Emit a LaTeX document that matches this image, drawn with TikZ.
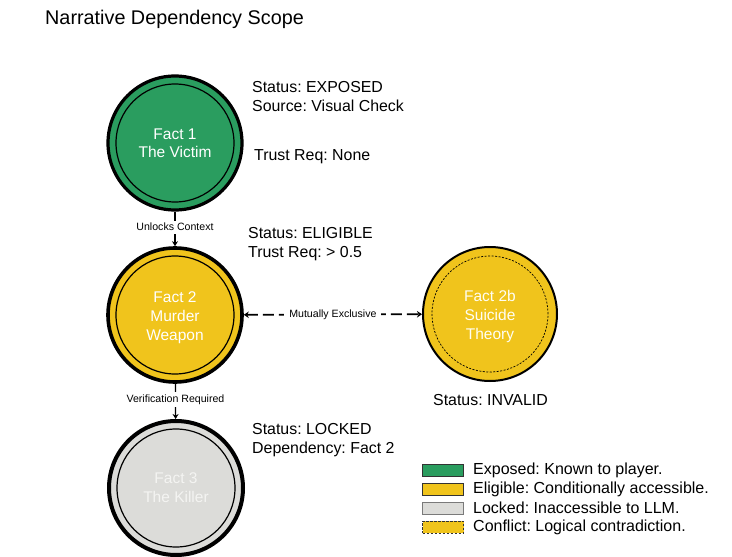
\documentclass[tikz,border=0pt]{standalone}
\usepackage{fontspec}
\setmainfont{Liberation Sans}
\frenchspacing
\usetikzlibrary{arrows.meta}
\definecolor{fgreen}{HTML}{2A9D5F}
\definecolor{fyellow}{HTML}{F0C41C}
\definecolor{fgray}{HTML}{DCDCD9}
\definecolor{ftextgray}{HTML}{F4F4F2}
\definecolor{swgray}{HTML}{7A7A7A}
\tikzset{
  fact/.style={circle, draw=black, line width=3.2pt, minimum size=134pt, inner sep=0pt,
    text=white, align=center, font=\fontsize{15.5}{18.5}\selectfont},
  innerring/.style={draw=black, line width=1.2pt},
  info/.style={anchor=base west, inner sep=0pt, font=\fontsize{15.9}{18}\selectfont},
  elabel/.style={fill=white, inner sep=2.5pt, font=\fontsize{10.6}{12}\selectfont},
  arr/.style={line width=1.2pt, -{Stealth[length=5pt,width=6pt]}},
  swatch/.style={draw=black!80, line width=0.8pt, minimum width=41pt, minimum height=12pt, inner sep=0pt},
  legtext/.style={anchor=west, inner sep=0pt, font=\fontsize{16}{18}\selectfont}
}
\begin{document}
\begin{tikzpicture}[x=1pt,y=-1pt]
\useasboundingbox (0,0) rectangle (732,557);
\node[anchor=west, inner sep=0pt, font=\fontsize{19.8}{22}\selectfont] (title) at (45,19) {Narrative Dependency Scope};

% fact circles
\node[fact, fill=fgreen] (f1) at (175,143) {Fact 1\\The Victim};
\draw[innerring] (f1.center) circle[radius=59pt];

\node[fact, fill=fyellow, line width=3.6pt, font=\fontsize{15.5}{19}\selectfont] (f2) at (175,315) {\rule{0pt}{17pt}Fact 2\\Murder\\Weapon};
\draw[innerring] (f2.center) circle[radius=59pt];

\node[fact, fill=fgray, line width=4pt, text=ftextgray, font=\fontsize{15.5}{19}\selectfont] (f3) at (176,488) {Fact 3\\The Killer};
\draw[innerring] (f3.center) circle[radius=59pt];

\node[fact, fill=fyellow, line width=2pt, text=white!95!yellow, font=\fontsize{15.5}{19}\selectfont] (f2b) at (490,314) {\rule{0pt}{17pt}Fact 2b\\Suicide\\Theory};
\draw[line width=0.7pt, dash pattern=on 2pt off 1.5pt] (f2b.center) circle[radius=58pt];

% connectors
\draw[arr] (f1) -- node[elabel, pos=0.45] (l1) {Unlocks Context} (f2);
\draw[arr] (f2) -- node[elabel, pos=0.45] (l2) {Verification Required} (f3);
\draw[line width=1.7pt, dash pattern=on 11pt off 5pt, {Stealth[length=5pt,width=6.5pt]}-{Stealth[length=5pt,width=6.5pt]}]
  (f2) -- node[elabel, inner sep=5pt] (l3) {Mutually Exclusive} (f2b);

% info texts
\node[info] (s1a) at (252,92) {Status: EXPOSED};
\node[info] (s1b) at (252,111) {Source: Visual Check};
\node[info] (s1c) at (254,160) {Trust Req: None};
\node[info] (s2a) at (248,238) {Status: ELIGIBLE};
\node[info] (s2b) at (248,257) {Trust Req: > 0.5};
\node[info] (s2bb) at (433,405) {Status: INVALID};
\node[info] (s3a) at (252,434) {Status: LOCKED};
\node[info] (s3b) at (252,453) {Dependency: Fact 2};

% legend
\node[swatch, fill=fgreen] (w1) at (443,470) {};
\node[swatch, fill=fyellow] (w2) at (443,489) {};
\node[swatch, fill=fgray, draw=swgray] (w3) at (443,508) {};
\node[swatch, fill=fyellow, dash pattern=on 2.5pt off 1.5pt] (w4) at (443,527) {};
\node[legtext] (t1) at (473,470) {Exposed: Known to player.};
\node[legtext] (t2) at (473,489) {Eligible: Conditionally accessible.};
\node[legtext] (t3) at (473,508) {Locked: Inaccessible to LLM.};
\node[legtext] (t4) at (473,527) {Conflict: Logical contradiction.};
\end{tikzpicture}
\end{document}
